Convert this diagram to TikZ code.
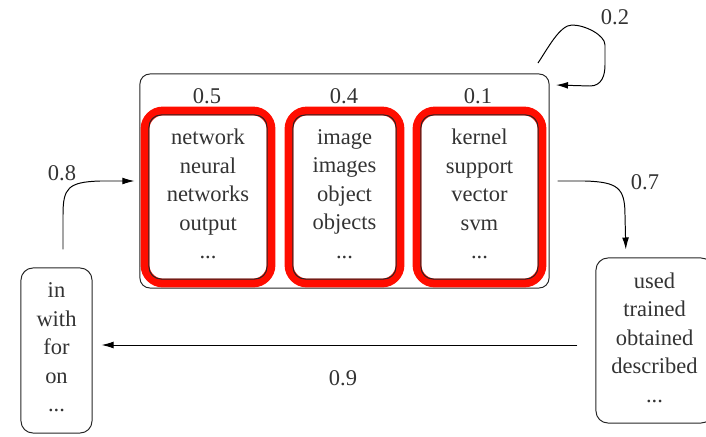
\documentclass[tikz,border=0pt]{standalone}
\usepackage{fontspec}
\setmainfont{Liberation Serif}
\usetikzlibrary{arrows.meta}
\begin{document}
\begin{tikzpicture}[x=0.025cm,y=-0.025cm,
    font=\rmfamily\fontsize{16}{20.3}\selectfont,
    every node/.style={text=black!80},
    outline/.style={draw=black!85,line width=0.7pt,rounded corners=0.25cm,
      minimum width=10.225cm,minimum height=5.35cm},
    wordbox/.style={draw=black!85,line width=0.7pt,rounded corners=0.3cm,
      align=center,inner sep=0pt,minimum height=4.1cm},
    ring/.style={draw=red!90!orange,line width=0.22cm,rounded corners=0.45cm,
      minimum height=4.3cm},
    sidebox/.style={draw=black!85,line width=0.7pt,rounded corners=0.3cm,
      align=center,inner sep=0pt,minimum height=4.125cm},
    flow/.style={draw=black,line width=0.7pt,-{Latex[length=0.3cm,width=0.17cm]}}]
  \useasboundingbox (0,0) rectangle (706,436);
  \node[outline] (topic) at (344.5,181) {};
  \node (wnet) at (207,96) {0.5};
  \node (wimg) at (344,96) {0.4};
  \node (wsvm) at (478,96) {0.1};
  \node[ring,minimum width=3.15cm] (rnet) at (208,197) {};
  \node[ring,minimum width=2.775cm] (rimg) at (344.5,197) {};
  \node[ring,minimum width=3.125cm] (rsvm) at (479.5,197) {};
  \node[wordbox,minimum width=2.95cm] (net) at (208,197)
    {network\\neural\\networks\\output\\...\\[-0.56cm]};
  \node[wordbox,minimum width=2.575cm] (img) at (344.5,197)
    {image\\images\\object\\objects\\...\\[-0.56cm]};
  \node[wordbox,minimum width=2.925cm] (svm) at (479.5,197)
    {kernel\\support\\vector\\svm\\...\\[-0.56cm]};
  \node[sidebox,minimum width=1.775cm] (lft) at (56.5,350.5)
    {in\\with\\for\\on\\...\\[-0.56cm]};
  \node[sidebox,minimum width=2.925cm] (rgt) at (654.5,340.5)
    {used\\trained\\obtained\\described\\...\\[-0.56cm]};
  \coordinate (s08) at (lft.north -| 63,0);
  \coordinate (s07) at (topic.east);
  \coordinate (e07) at (rgt.north -| 626,0);
  \coordinate (s02) at (538,63);
  \coordinate (e02) at (556,85);
  \draw[flow,shorten <=18*0.025cm,shorten >=5*0.025cm] (s08)
    -- (63,215) .. controls (63,188) and (68,182) .. (100,181) -- (topic.west);
  \node (l08) at (62,173) {0.8};
  \draw[flow,shorten <=8*0.025cm,shorten >=8*0.025cm] (s07)
    -- (585,181) .. controls (618,182) and (625,188) .. (625,215) -- (e07);
  \node (l07) at (645,182) {0.7};
  \draw[flow] (s02) .. controls (548,48) and (560,25) .. (572,25)
    .. controls (585,25) and (605,35) .. (605,45)
    -- (605,65) .. controls (605,75) and (602,86) .. (590,86) -- (e02);
  \node (l02) at (615,17) {0.2};
  \draw[flow,shorten <=18*0.025cm,shorten >=9*0.025cm]
    (rgt.west |- 0,345) -- (lft.east |- 0,345);
  \node (l09) at (343,378) {0.9};
\end{tikzpicture}
\end{document}
